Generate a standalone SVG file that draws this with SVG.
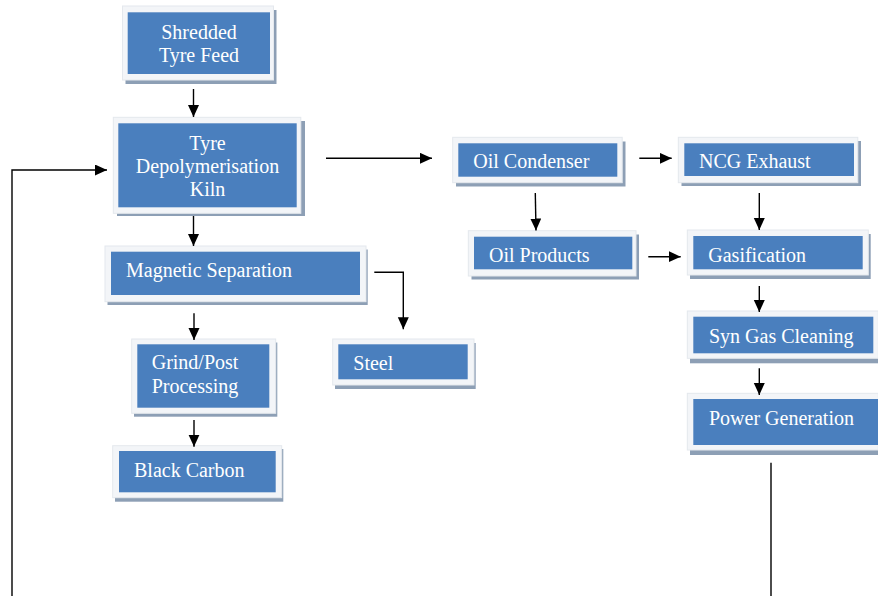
<svg xmlns="http://www.w3.org/2000/svg" width="878" height="596" viewBox="0 0 878 596">
<style>
.frame{fill:#f3f5f8;stroke:#e4e8ed;stroke-width:1}
.shadow{fill:#8d9fb5}
.blue{fill:#4a7fbe}
.lbl{font-family:"Liberation Serif","Times New Roman",serif;font-size:20px;fill:#ffffff}
.mid{text-anchor:middle}
.conn{fill:none;stroke:#000000;stroke-width:1.4}
</style>
<defs>
<marker id="ah" markerUnits="userSpaceOnUse" markerWidth="13" markerHeight="12" refX="12" refY="5.5" orient="auto">
<path d="M0,0 L12,5.5 L0,11 z" fill="#000000"/>
</marker>
</defs>
<rect width="878" height="596" fill="#ffffff"/>

<g id="shredded-tyre-feed">
<rect class="shadow" x="125.5" y="10" width="151" height="74"/>
<rect class="frame" x="122.5" y="6" width="151" height="74"/>
<rect class="blue" x="127.7" y="12.3" width="142.3" height="61.7"/>
<text class="lbl mid" x="199" y="38.5">Shredded</text>
<text class="lbl mid" x="199" y="62">Tyre Feed</text>
</g>

<g id="tyre-depolymerisation-kiln">
<rect class="shadow" x="117" y="121" width="188" height="95"/>
<rect class="frame" x="113.3" y="117.3" width="187.5" height="96"/>
<rect class="blue" x="118.3" y="123.3" width="178.4" height="84"/>
<text class="lbl mid" x="207.5" y="149.5">Tyre</text>
<text class="lbl mid" x="207.5" y="172.5">Depolymerisation</text>
<text class="lbl mid" x="207.5" y="195.5">Kiln</text>
</g>

<g id="oil-condenser">
<rect class="shadow" x="456" y="141.5" width="169.5" height="45"/>
<rect class="frame" x="452.7" y="137.3" width="169.5" height="45.4"/>
<rect class="blue" x="458.3" y="143.3" width="159" height="33.4"/>
<text class="lbl" x="473.3" y="168">Oil Condenser</text>
</g>

<g id="ncg-exhaust">
<rect class="shadow" x="681.5" y="141" width="179.5" height="45"/>
<rect class="frame" x="678.3" y="137.3" width="179.5" height="45.4"/>
<rect class="blue" x="684.3" y="143.3" width="169.7" height="32.7"/>
<text class="lbl" x="699" y="168">NCG Exhaust</text>
</g>

<g id="oil-products">
<rect class="shadow" x="471.5" y="234.5" width="167.5" height="45"/>
<rect class="frame" x="468.3" y="230.7" width="167.7" height="45.3"/>
<rect class="blue" x="474" y="236.7" width="158.3" height="32.6"/>
<text class="lbl" x="489" y="261.7">Oil Products</text>
</g>

<g id="gasification">
<rect class="shadow" x="690" y="234" width="180.7" height="45"/>
<rect class="frame" x="687.3" y="230" width="181" height="45"/>
<rect class="blue" x="693.3" y="236" width="169.4" height="33.3"/>
<text class="lbl" x="708.3" y="261.7">Gasification</text>
</g>

<g id="magnetic-separation">
<rect class="shadow" x="107.5" y="249.5" width="260.2" height="55.5"/>
<rect class="frame" x="105" y="246" width="261" height="55.7"/>
<rect class="blue" x="111" y="251.7" width="249" height="43.3"/>
<text class="lbl" x="126" y="277.3">Magnetic Separation</text>
</g>

<g id="steel">
<rect class="shadow" x="335" y="343" width="140.7" height="46"/>
<rect class="frame" x="332.7" y="339" width="141.3" height="46"/>
<rect class="blue" x="338.3" y="344.3" width="129.4" height="35"/>
<text class="lbl" x="353.3" y="370">Steel</text>
</g>

<g id="grind-post-processing">
<rect class="shadow" x="134" y="342.5" width="143.3" height="74.2"/>
<rect class="frame" x="131.7" y="339" width="144" height="74.3"/>
<rect class="blue" x="137.3" y="344.3" width="132" height="63.4"/>
<text class="lbl" x="151.7" y="369.3">Grind/Post</text>
<text class="lbl" x="151.7" y="392.7">Processing</text>
</g>

<g id="black-carbon">
<rect class="shadow" x="115" y="449" width="168.3" height="52.7"/>
<rect class="frame" x="112.7" y="445.7" width="169" height="52"/>
<rect class="blue" x="119" y="451" width="156.7" height="41.3"/>
<text class="lbl" x="134" y="477.3">Black Carbon</text>
</g>

<g id="syn-gas-cleaning">
<rect class="shadow" x="690" y="315" width="190" height="48.3"/>
<rect class="frame" x="687.3" y="311" width="191" height="47.3"/>
<rect class="blue" x="693.3" y="316.7" width="180" height="36.6"/>
<text class="lbl" x="709" y="343.3">Syn Gas Cleaning</text>
</g>

<g id="power-generation">
<rect class="shadow" x="690" y="397" width="190" height="58"/>
<rect class="frame" x="687.3" y="393.3" width="191" height="56.7"/>
<rect class="blue" x="693.3" y="399" width="186" height="46"/>
<text class="lbl" x="709" y="425">Power Generation</text>
</g>

<g id="connectors">
<line class="conn" x1="193.5" y1="89" x2="193.5" y2="117" marker-end="url(#ah)"/>
<line class="conn" x1="193.5" y1="216" x2="193.5" y2="246" marker-end="url(#ah)"/>
<line class="conn" x1="326" y1="158.3" x2="432" y2="158.3" marker-end="url(#ah)"/>
<line class="conn" x1="639.3" y1="158.3" x2="671.7" y2="158.3" marker-end="url(#ah)"/>
<line class="conn" x1="535.3" y1="193" x2="536" y2="230.5" marker-end="url(#ah)"/>
<line class="conn" x1="759.3" y1="193" x2="759.3" y2="230" marker-end="url(#ah)"/>
<line class="conn" x1="648.3" y1="256.7" x2="680.7" y2="256.7" marker-end="url(#ah)"/>
<line class="conn" x1="759.3" y1="286" x2="759.3" y2="312" marker-end="url(#ah)"/>
<line class="conn" x1="759.3" y1="368.3" x2="759.3" y2="395" marker-end="url(#ah)"/>
<polyline class="conn" points="374.3,272.3 403.3,272.3 403.3,329.3" marker-end="url(#ah)"/>
<line class="conn" x1="194" y1="313.3" x2="194" y2="340" marker-end="url(#ah)"/>
<line class="conn" x1="194" y1="420" x2="194" y2="446.7" marker-end="url(#ah)"/>
<line class="conn" x1="771" y1="462.7" x2="771" y2="596"/>
<polyline class="conn" points="12,596 12,170 107,170" marker-end="url(#ah)"/>
</g>
</svg>
